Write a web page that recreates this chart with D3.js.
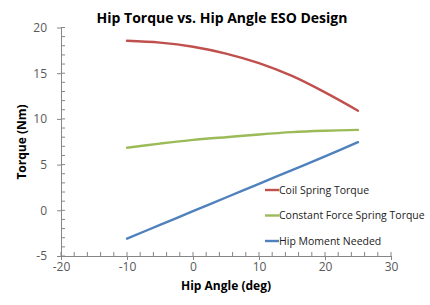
<!DOCTYPE html>
<html>
<head>
<meta charset="utf-8">
<script src="https://cdn.jsdelivr.net/npm/d3@7"></script>
<style>
  body { margin: 0; background: #fff; }
  text { font-family: "Open Sans", "Liberation Sans", sans-serif; }
</style>
</head>
<body>
<script>
// hip angle in degrees
var angles = [-10, -5, 0, 5, 10, 15, 20, 25];
var coilSpring = [18.55, 18.35, 17.9, 17.15, 16.1, 14.7, 12.9, 10.9];
var constForce = [6.85, 7.3, 7.7, 8.0, 8.3, 8.55, 8.7, 8.8];
var hipMoment = [-3.1, -1.6, -0.1, 1.4, 2.9, 4.4, 5.9, 7.45];
var seriesNames = ["Coil Spring Torque", "Constant Force Spring Torque", "Hip Moment Needed"];
var xTicks = [-20, -10, 0, 10, 20, 30];
var yTicks = [-5, 0, 5, 10, 15, 20];

var width = 430, height = 305;
var colors = ["#C0504D", "#9BBB59", "#4F81BD"];

var svg = d3.select("body").append("svg")
  .attr("width", width)
  .attr("height", height);

var x = d3.scaleLinear().domain([-20, 30]).range([61, 391]);
var y = d3.scaleLinear().domain([-5, 20]).range([256, 27.5]);

var axisColor = "#868686";

// minor ticks
var xMinor = d3.range(-20, 30.01, 2);
svg.selectAll(".xminor").data(xMinor).enter().append("line")
  .attr("x1", function(d){ return x(d); })
  .attr("x2", function(d){ return x(d); })
  .attr("y1", y(-5)).attr("y2", y(-5) - 4)
  .attr("stroke", axisColor);
var yMinor = d3.range(-5, 20.01, 1);
svg.selectAll(".yminor").data(yMinor).enter().append("line")
  .attr("y1", function(d){ return y(d); })
  .attr("y2", function(d){ return y(d); })
  .attr("x1", x(-20)).attr("x2", x(-20) + 4)
  .attr("stroke", axisColor);

// axes
var fmt = function(d){ return String(d); };
var xAxis = svg.append("g")
  .attr("transform", "translate(0," + y(-5) + ")")
  .call(d3.axisBottom(x).tickValues(xTicks).tickFormat(fmt).tickSize(4).tickSizeOuter(0));
var yAxis = svg.append("g")
  .attr("transform", "translate(" + x(-20) + ",0)")
  .call(d3.axisLeft(y).tickValues(yTicks).tickFormat(fmt).tickSize(4).tickSizeOuter(0));

[xAxis, yAxis].forEach(function(a){
  a.select(".domain").attr("stroke", axisColor);
  a.selectAll(".tick line").attr("stroke", axisColor);
  a.selectAll(".tick text")
    .attr("fill", "#595959")
    .style("font-size", "12px");
});
xAxis.selectAll(".tick text").attr("y", 6);
yAxis.selectAll(".tick text").attr("x", -14);

// lines
var allSeries = [coilSpring, constForce, hipMoment];
var line = d3.line()
  .x(function(d, i){ return x(angles[i]); })
  .y(function(d){ return y(d); })
  .curve(d3.curveCatmullRom);

svg.selectAll(".series").data(allSeries).enter().append("path")
  .attr("d", line)
  .attr("fill", "none")
  .attr("stroke", function(d, i){ return colors[i]; })
  .attr("stroke-width", 2.4)
  .attr("stroke-linecap", "round");

// title + axis titles
svg.append("text")
  .attr("x", 222).attr("y", 23)
  .attr("text-anchor", "middle")
  .style("font-size", "14px").style("font-weight", "bold")
  .attr("fill", "#000")
  .text("Hip Torque vs. Hip Angle ESO Design");

svg.append("text")
  .attr("x", 226).attr("y", 290)
  .attr("text-anchor", "middle")
  .style("font-size", "12px").style("font-weight", "bold")
  .text("Hip Angle (deg)");

svg.append("text")
  .attr("transform", "translate(26,142) rotate(-90)")
  .attr("text-anchor", "middle")
  .style("font-size", "12px").style("font-weight", "bold")
  .text("Torque (Nm)");

// legend
var legend = svg.selectAll(".legend").data(seriesNames).enter().append("g")
  .attr("transform", function(d, i){ return "translate(265," + (190 + i * 25.5) + ")"; });
legend.append("line")
  .attr("x1", 0).attr("x2", 14)
  .attr("stroke", function(d, i){ return colors[i]; })
  .attr("stroke-width", 2.4);
legend.append("text")
  .attr("x", 14).attr("dy", "0.35em")
  .style("font-size", "10.5px")
  .attr("fill", "#222")
  .text(function(d){ return d; });
</script>
</body>
</html>
